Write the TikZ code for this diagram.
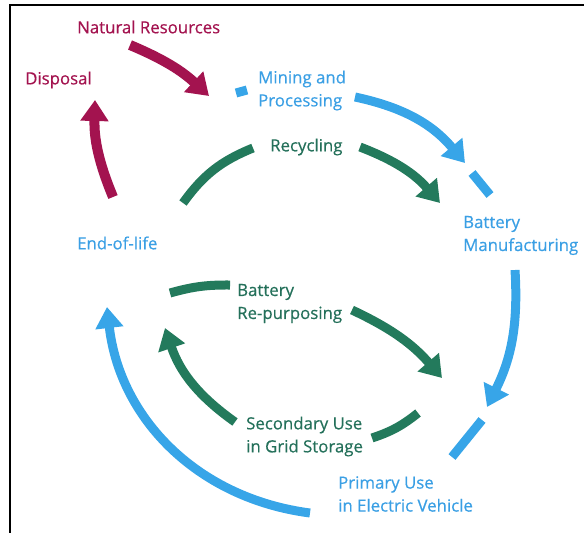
\documentclass[tikz,border=0pt]{standalone}
\usepackage{fontspec}
\setmainfont{Open Sans}
\newfontfamily\lblfont{Open Sans}[FakeBold=0.5]
\usetikzlibrary{arrows.meta}
\definecolor{crim}{HTML}{A3134F}
\definecolor{skyb}{HTML}{37A5E8}
\definecolor{skyt}{HTML}{3A9FE4}
\definecolor{leaf}{HTML}{237A5C}
\definecolor{leaft}{HTML}{24705A}
\tikzstyle{lbl} = [inner sep=0pt,anchor=west,align=left,font=\lblfont\fontsize{16.8}{23}\selectfont]
\tikzstyle{arr} = [line width=9pt,-{Triangle[width=27pt,length=21pt]}]
\tikzstyle{seg} = [line width=9pt]

\begin{document}
\begin{tikzpicture}[x=1pt,y=-1pt]
	\useasboundingbox (0,0) rectangle (584,533);
	\draw[line width=2pt] (10,533) -- (10,5) -- (584,5);

	\node[lbl,crim](natres) at (77,27) {Natural Resources};
	\node[lbl,crim](disposal) at (25,80) {Disposal};
	\node[lbl,skyt](mining) at (258,90.5) {Mining and\\Processing};
	\node[lbl,leaft](recycling) at (270,147) {Recycling};
	\node[lbl,skyt](manuf) at (463,235.5) {Battery\\Manufacturing};
	\node[lbl,skyt](endlife) at (77,243) {End-of-life};
	\node[lbl,leaft](repurp) at (237,303.5) {Battery\\Re-purposing};
	\node[lbl,leaft](secuse) at (246,436.5) {Secondary Use\\in Grid Storage};
	\node[lbl,skyt](primuse) at (338,494) {Primary Use\\in Electric Vehicle};

	\coordinate (nr1) at (130,45);
	\coordinate (nr2) at (209,96);
	\coordinate (eol1) at (113,197);
	\coordinate (dsp) at (95,100);
	\coordinate (b0a) at (236,93);
	\coordinate (b0b) at (247,90);
	\coordinate (mp1) at (355,97);
	\coordinate (bm1) at (465,163);
	\coordinate (b2a) at (472,173);
	\coordinate (b2b) at (490,195);
	\coordinate (bm2) at (515,270);
	\coordinate (pu1) at (487,407);
	\coordinate (b4a) at (482,420);
	\coordinate (b4b) at (452,457);
	\coordinate (pu2) at (310,513);
	\coordinate (eol2) at (107,307);
	\coordinate (g1a) at (183,203);
	\coordinate (g1b) at (253,148);
	\coordinate (rc1) at (360,147);
	\coordinate (rc2) at (440,203);
	\coordinate (g3a) at (170,293);
	\coordinate (g3b) at (230,285);
	\coordinate (rp1) at (352,310);
	\coordinate (rp2) at (442,378);
	\coordinate (g5a) at (418,413);
	\coordinate (g5b) at (372,438);
	\coordinate (su1) at (235,422);
	\coordinate (su2) at (165,328);

	\draw[arr,crim,line width=10pt] (nr1) to[bend left=10] (nr2);
	\draw[arr,crim,line width=10pt] (eol1) to[bend left=12] (dsp);

	\draw[seg,skyb] (b0a) -- (b0b);
	\draw[arr,skyb] (mp1) to[bend left=19] (bm1);
	\draw[seg,skyb] (b2a) -- (b2b);
	\draw[arr,skyb] (bm2) to[bend left=15] (pu1);
	\draw[seg,skyb] (b4a) -- (b4b);
	\draw[arr,skyb] (pu2) to[bend left=38] (eol2);

	\draw[seg,leaf] (g1a) to[bend left=16] (g1b);
	\draw[arr,leaf] (rc1) to[bend left=14] (rc2);
	\draw[seg,leaf] (g3a) to[bend left=8] (g3b);
	\draw[arr,leaf] (rp1) to[bend left=12] (rp2);
	\draw[seg,leaf] (g5a) to[bend left=10] (g5b);
	\draw[arr,leaf] (su1) to[bend left=18] (su2);

\end{tikzpicture}
\end{document}
